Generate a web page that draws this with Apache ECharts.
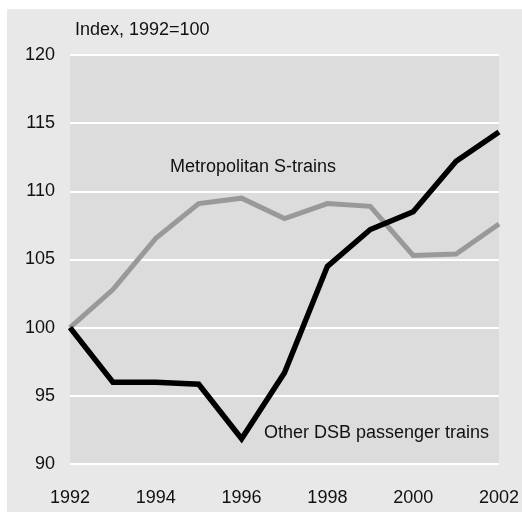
<!DOCTYPE html>
<html><head><meta charset="utf-8">
<script src="https://cdn.jsdelivr.net/npm/echarts@6/dist/echarts.min.js"></script>
<style>html,body{margin:0;padding:0;background:#fff}#c{width:522px;height:512px}</style>
</head><body><div id="c"></div>
<script>
const years = [1992,1993,1994,1995,1996,1997,1998,1999,2000,2001,2002];
const sTrains = [100,102.8,106.55,109.1,109.5,108.0,109.1,108.9,105.3,105.4,107.6];
const otherDSB = [100,96.0,96.0,95.85,91.85,96.7,104.5,107.2,108.5,112.2,114.35];
const yTicks = [90,95,100,105,110,115,120];
const xTicks = [1992,1994,1996,1998,2000,2002];
const seriesNames = ['Metropolitan S-trains','Other DSB passenger trains'];
const yTitle = 'Index, 1992=100';

const FONT = '"Liberation Sans", Arial, sans-serif';
const FS = 18;
const chart = echarts.init(document.getElementById('c'));
chart.setOption({
  animation:false,
  backgroundColor:'#ffffff',
  graphic:[
    {type:'rect', z:-10, shape:{x:7,y:9,width:515,height:503}, style:{fill:'#e8e8e8'}},
    {type:'text', left:75, top:21, style:{text:yTitle, font:FS+'px '+FONT, fill:'#111'}},
    {type:'text', left:170, top:158, z:10, style:{text:seriesNames[0], font:FS+'px '+FONT, fill:'#111'}},
    {type:'text', left:264, top:424, z:10, style:{text:seriesNames[1], font:FS+'px '+FONT, fill:'#111'}}
  ],
  grid:{left:70,right:22,top:55,bottom:48,show:true,backgroundColor:'#dcdcdc',borderWidth:0},
  xAxis:{type:'value',min:1992,max:2002,interval:2,
    axisLine:{show:false},axisTick:{show:false},splitLine:{show:false},
    axisLabel:{formatter:v=>String(v),fontSize:FS,fontFamily:FONT,color:'#111',margin:25,
      customValues:xTicks}},
  yAxis:{type:'value',min:90,max:120,interval:5,
    axisLine:{show:false},axisTick:{show:false},
    splitLine:{show:true,lineStyle:{color:'#ffffff',width:2}},
    axisLabel:{fontSize:FS,fontFamily:FONT,color:'#111',margin:15,customValues:yTicks}},
  series:[
    {name:seriesNames[0],type:'line',data:years.map((y,i)=>[y,sTrains[i]]),symbol:'none',
     lineStyle:{color:'#999999',width:5,join:'miter'},z:2},
    {name:seriesNames[1],type:'line',data:years.map((y,i)=>[y,otherDSB[i]]),symbol:'none',
     lineStyle:{color:'#000000',width:5.5,join:'miter'},z:3}
  ]
});
</script></body></html>
